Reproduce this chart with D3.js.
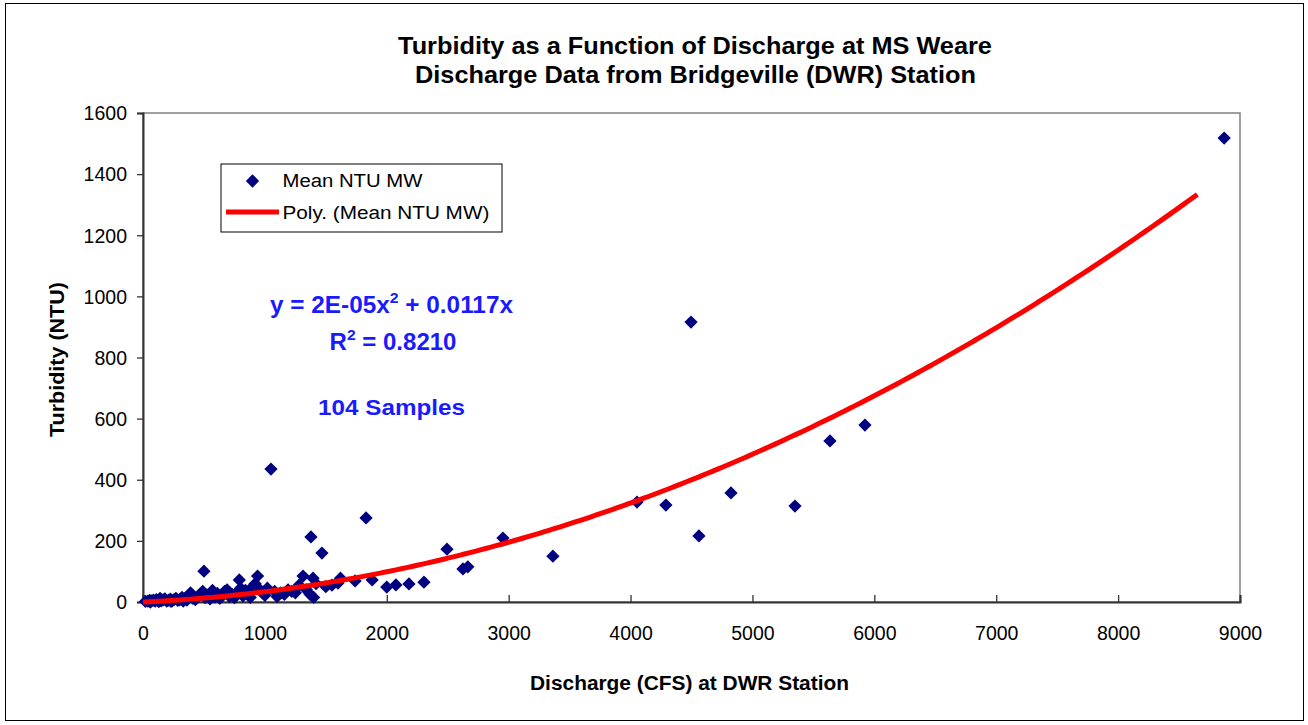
<!DOCTYPE html>
<html><head><meta charset="utf-8">
<script src="https://cdn.jsdelivr.net/npm/d3@7"></script>
<style>body{margin:0;background:#fff}svg{display:block;font-family:Arial,"Liberation Sans",sans-serif}</style>
</head><body>
<svg id="c" width="1308" height="725"></svg>
<script>
const discharge = [20,40,55,70,85,100,110,125,140,150,165,180,195,210,225,240,255,270,285,300,
  320,340,360,375,390,410,430,450,470,490,500,510,530,550,570,590,610,630,650,670,
  690,710,730,750,770,790,800,820,840,860,880,900,920,940,960,980,1000,1020,1050,1080,
  1100,1130,1160,1190,1220,1250,1280,1313,1340,1370,1378,1395,1400,1420,1468,1500,1550,1600,1620,1740,
  1830,1880,2000,2075,2182,2305,2494,2625,2665,2953,3363,4053,4290,4496,4561,4824,5349,5636,5923,8870,
  60,130,230,330];
const turbidity = [2,3,5,4,6,3,8,5,12,4,7,10,3,6,9,4,8,12,5,7,
  15,10,6,20,30,12,8,18,25,35,101,14,22,10,38,16,28,12,20,35,
  40,18,25,14,30,72,45,20,38,28,15,50,60,85,40,30,22,45,435,35,
  18,30,25,40,35,30,55,85,40,25,213,78,15,60,160,50,55,62,78,69,
  275,72,49,56,59,65,173,108,115,209,150,327,317,916,216,357,314,527,579,1518,
  0,1,2,3];
const trendRange = [0, 8650];
const xTicks = [0,1000,2000,3000,4000,5000,6000,7000,8000,9000];
const yTicks = [0,200,400,600,800,1000,1200,1400,1600];
const titleLines = ["Turbidity as a Function of Discharge at MS Weare","Discharge Data from Bridgeville (DWR) Station"];
const seriesName = "Mean NTU MW";
const trendName = "Poly. (Mean NTU MW)";
const eqLines = ["y = 2E-05x", "R", "104 Samples"];

const svg = d3.select("#c");
svg.append("rect").attr("x",5.5).attr("y",3.5).attr("width",1298).attr("height",717)
  .attr("fill","#fff").attr("stroke","#000").attr("stroke-width",1);

const L=143, R=1240, T=113, B=602;
const x = d3.scaleLinear().domain([0,9000]).range([L,R]);
const y = d3.scaleLinear().domain([0,1600]).range([B,T]);

function fit(sel, w, cx){
  const cur = sel.node().getComputedTextLength();
  const k = w/cur;
  const prev = sel.attr("transform") || "";
  if (cx === null) sel.attr("transform", prev + ` scale(${k},1)`);
  else sel.attr("transform", `translate(${cx},0) scale(${k},1) translate(${-cx},0)`);
}

// plot area border
svg.append("rect").attr("x",L).attr("y",T).attr("width",R-L).attr("height",B-T)
  .attr("fill","none").attr("stroke","#808080").attr("stroke-width",1.5);

// axes
const gx = svg.append("g").attr("transform",`translate(0,${B})`)
  .call(d3.axisBottom(x).tickValues(xTicks).tickSize(-7).tickPadding(24).tickFormat(d3.format("d")));
const gy = svg.append("g").attr("transform",`translate(${L},0)`)
  .call(d3.axisLeft(y).tickValues(yTicks).tickSize(6).tickPadding(10).tickFormat(d3.format("d")));
[gx,gy].forEach(g=>{
  g.select(".domain").attr("stroke","#333").attr("stroke-width",2);
  g.selectAll(".tick line").attr("stroke","#333").attr("stroke-width",1.3);
  g.selectAll(".tick text").attr("font-size",19.5).attr("fill","#000").attr("font-family","Arial, Liberation Sans, sans-serif");
});
gy.selectAll(".tick text").attr("dy","0.35em");

// trendline: least squares y = a x^2 + b x (no intercept)
const pts = discharge.map((d,i)=>[d,turbidity[i]]);
let s4=0,s3=0,s2=0,sx2y=0,sxy=0;
pts.forEach(([u,v])=>{s4+=u**4;s3+=u**3;s2+=u*u;sx2y+=u*u*v;sxy+=u*v;});
const det = s4*s2 - s3*s3;
const a = (sx2y*s2 - s3*sxy)/det;
const b = (s4*sxy - s3*sx2y)/det;
const trendPts = d3.range(0,201).map(i=>{const u = trendRange[0] + (trendRange[1]-trendRange[0])*i/200; return [u, a*u*u+b*u];});

// points
const g = svg.append("g");
g.selectAll("path.pt").data(pts).enter().append("path").attr("class","pt")
  .attr("d",d3.symbol(d3.symbolDiamond2,112)())
  .attr("transform",d=>`translate(${x(d[0])},${y(d[1])})`)
  .attr("fill","#000080");

g.append("path").datum(trendPts)
  .attr("d",d3.line().x(d=>x(d[0])).y(d=>y(d[1])))
  .attr("fill","none").attr("stroke","#ff0000").attr("stroke-width",5);

// titles
const t1 = svg.append("text").attr("x",695).attr("y",54).attr("text-anchor","middle")
  .attr("font-size",24).attr("font-weight","bold").text(titleLines[0]);
fit(t1, 594, 695);
const t2 = svg.append("text").attr("x",695.5).attr("y",83).attr("text-anchor","middle")
  .attr("font-size",24).attr("font-weight","bold").text(titleLines[1]);
fit(t2, 561, 695.5);
const xt = svg.append("text").attr("x",689.5).attr("y",690).attr("text-anchor","middle")
  .attr("font-size",20).attr("font-weight","bold").text("Discharge (CFS) at DWR Station");
fit(xt, 319, 689.5);
const yt = svg.append("text").attr("transform","translate(64,359.5) rotate(-90)").attr("text-anchor","middle")
  .attr("font-size",20).attr("font-weight","bold").text("Turbidity (NTU)");
fit(yt, 155, null);

// equation annotation
const blue = "#1a1aff";
const eq = svg.append("text").attr("x",391.5).attr("y",313).attr("text-anchor","middle")
  .attr("font-size",23).attr("font-weight","bold").attr("fill",blue);
eq.append("tspan").text(eqLines[0]);
eq.append("tspan").attr("font-size",15).attr("dy",-10).text("2");
eq.append("tspan").attr("dy",10).text(" + 0.0117x");
fit(eq, 243, 391.5);
const r2 = svg.append("text").attr("x",393).attr("y",350).attr("text-anchor","middle")
  .attr("font-size",23).attr("font-weight","bold").attr("fill",blue);
r2.append("tspan").text(eqLines[1]);
r2.append("tspan").attr("font-size",15).attr("dy",-10).text("2");
r2.append("tspan").attr("dy",10).text(" = 0.8210");
fit(r2, 127, 393);
const sm = svg.append("text").attr("x",391.5).attr("y",415).attr("text-anchor","middle")
  .attr("font-size",23).attr("font-weight","bold").attr("fill",blue).text(eqLines[2]);
fit(sm, 147, 391.5);

// legend
const lg = svg.append("g");
lg.append("rect").attr("x",221).attr("y",164).attr("width",281).attr("height",68)
  .attr("fill","#fff").attr("stroke","#000").attr("stroke-width",1);
lg.append("path").attr("d",d3.symbol(d3.symbolDiamond2,112)()).attr("transform","translate(252.5,181)").attr("fill","#000080");
const l1 = lg.append("text").attr("x",282.5).attr("y",187.5).attr("font-size",19).text(seriesName);
fit(l1, 140, 282.5);
lg.append("line").attr("x1",226).attr("x2",279).attr("y1",212).attr("y2",212).attr("stroke","#ff0000").attr("stroke-width",5);
const l2 = lg.append("text").attr("x",282.5).attr("y",219.5).attr("font-size",19).text(trendName);
fit(l2, 207, 282.5);
</script>
</body></html>
